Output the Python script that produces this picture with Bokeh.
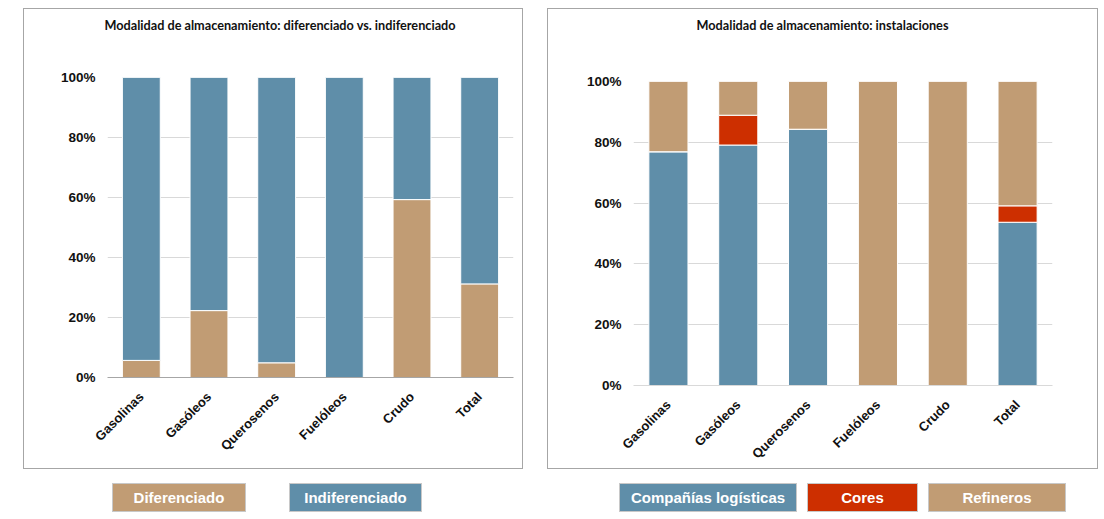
import math
from bokeh.plotting import figure
from bokeh.models import (FactorRange, FixedTicker, PrintfTickFormatter, Div, Spacer, Range1d,
                          ColumnDataSource)
from bokeh.layouts import column, row
from bokeh.embed import file_html
from bokeh.resources import INLINE

categories = ["Gasolinas", "Gasóleos", "Querosenos", "Fuelóleos", "Crudo", "Total"]
diferenciado = [5.7, 22.3, 4.9, 0.0, 59.3, 31.2]
indiferenciado = [94.3, 77.7, 95.1, 100.0, 40.7, 68.8]
companias_logisticas = [76.9, 79.1, 84.3, 0.0, 0.0, 53.7]
cores = [0.0, 9.8, 0.0, 0.0, 0.0, 5.4]
refineros = [23.1, 11.1, 15.7, 100.0, 100.0, 40.9]
y_ticks = [0, 20, 40, 60, 80, 100]
title_left = "Modalidad de almacenamiento: diferenciado vs. indiferenciado"
title_right = "Modalidad de almacenamiento: instalaciones"

BLUE = "#5f8ea9"
TAN = "#c19c74"
RED = "#cd2f00"
TICK_FONT = "Liberation Sans"
TITLE_H = 34


def make_panel(width, height, title, bl, br, bt, bb, series, colors, title_shift, axis_color):
    data = {"cat": categories}
    names = []
    for i, s in enumerate(series):
        data["s%d" % i] = s
        names.append("s%d" % i)
    src = ColumnDataSource(data)
    fh = height - TITLE_H
    p = figure(x_range=FactorRange(*categories), y_range=Range1d(0, 100),
               width=width, height=fh, output_backend="svg", toolbar_location=None,
               min_border_left=bl, min_border_right=br, min_border_top=bt, min_border_bottom=bb)
    p.frame_align = False
    p.border_fill_color = None
    p.vbar_stack(names, x="cat", width=0.56, fill_color=colors, line_color="white",
                 line_width=1, source=src)
    p.outline_line_color = None
    p.xgrid.grid_line_color = None
    p.ygrid.grid_line_color = "#d9d9d9"
    p.ygrid.grid_line_width = 1
    p.yaxis.ticker = FixedTicker(ticks=y_ticks)
    p.yaxis.formatter = PrintfTickFormatter(format="%d%%")
    p.yaxis.axis_line_color = None
    p.yaxis.major_tick_line_color = None
    p.yaxis.minor_tick_line_color = None
    p.yaxis.major_tick_out = 0
    p.yaxis.major_label_standoff = 12
    p.xaxis.axis_line_color = axis_color
    p.xaxis.major_tick_line_color = None
    p.xaxis.major_label_orientation = math.pi / 4
    p.xaxis.major_label_standoff = 11
    for ax in (p.xaxis, p.yaxis):
        ax.major_label_text_font = TICK_FONT
        ax.major_label_text_font_style = "bold"
        ax.major_label_text_color = "#111111"
    p.xaxis.major_label_text_font_size = "13px"
    p.yaxis.major_label_text_font_size = "13.5px"
    head = Div(text=('<div style="width:%dpx;height:%dpx;box-sizing:border-box;'
                     'padding-left:%dpx;text-align:center;line-height:%dpx;'
                     'font-family:Lato,sans-serif;font-weight:bold;font-size:12.7px;'
                     'color:#111111;">%s</div>' % (width, TITLE_H, title_shift, TITLE_H, title)),
               width=width, height=TITLE_H, margin=0)
    panel = column(head, p, width=width, height=height,
                   styles={"outline": "1px solid #a6a6a6", "outline-offset": "-1px"})
    return panel


p1 = make_panel(500, 461, title_left, 84, 10, 35, 92,
                [diferenciado, indiferenciado], [TAN, BLUE], 14, "#a6a6a6")
p2 = make_panel(551, 461, title_right, 86, 46, 39, 83,
                [companias_logisticas, cores, refineros], [BLUE, RED, TAN], 0, "#d9d9d9")


def legend_box(label, color, w, h=29):
    html = ('<div style="width:%dpx;height:%dpx;box-sizing:border-box;background:%s;'
            'border:1px solid #c8c8c8;color:white;font-family:\'Liberation Sans\',Arial,sans-serif;'
            'font-weight:bold;font-size:15px;text-align:center;line-height:%dpx;">%s</div>'
            % (w, h, color, h - 2, label))
    return Div(text=html, width=w, height=h, margin=0)


top = row(Spacer(width=23), p1, Spacer(width=24), p2)
legend_row = row(Spacer(width=112), legend_box("Diferenciado", TAN, 134),
                 Spacer(width=43), legend_box("Indiferenciado", BLUE, 133),
                 Spacer(width=197), legend_box("Compañías logísticas", BLUE, 178),
                 Spacer(width=10), legend_box("Cores", RED, 111),
                 Spacer(width=10), legend_box("Refineros", TAN, 138))
layout = column(Spacer(height=8), top, Spacer(height=14), legend_row)

open("out.html", "w").write(file_html(layout, INLINE))
